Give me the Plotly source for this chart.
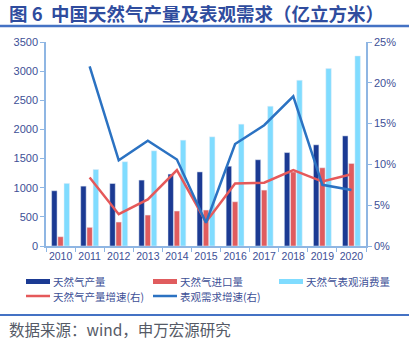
import plotly.graph_objects as go

years = ["2010","2011","2012","2013","2014","2015","2016","2017","2018","2019","2020"]
production = [948, 1027, 1072, 1131, 1234, 1271, 1369, 1480, 1603, 1736, 1889]
imports = [159, 320, 411, 531, 600, 617, 759, 959, 1270, 1342, 1416]
consumption = [1074, 1313, 1445, 1633, 1816, 1873, 2090, 2398, 2844, 3044, 3261]
prod_growth = [None, 8.4, 3.9, 5.7, 9.3, 2.95, 7.65, 7.75, 9.3, 7.9, 8.8]
demand_growth = [None, 22.0, 10.5, 12.9, 10.6, 2.85, 12.5, 14.8, 18.35, 7.5, 6.85]

names = ["天然气产量", "天然气进口量", "天然气表观消费量", "天然气产量增速(右)", "表观需求增速(右)"]
colors = ["#1B3A93", "#E05C5E", "#80DCFF", "#E5595A", "#2B72C2"]

tick_color = "#3D4F96"
axis_color = "#8FB6E3"
font_fam = "Noto Sans CJK SC, Liberation Sans, Arial"

W, H = 409, 342
ML, MR, MT, MB = 46, 43, 42, 96
PW, PH = W - ML - MR, H - MT - MB

def px(x):
    return (x - ML) / PW

def py(y):
    return (H - MB - y) / PH

fig = go.Figure()
fig.add_trace(go.Bar(x=years, y=production, name=names[0], marker_color=colors[0]))
fig.add_trace(go.Bar(x=years, y=imports, name=names[1], marker_color=colors[1]))
fig.add_trace(go.Bar(x=years, y=consumption, name=names[2], marker_color=colors[2]))
fig.add_trace(go.Scatter(x=years, y=prod_growth, name=names[3], mode="lines",
                         line=dict(color=colors[3], width=2.5), yaxis="y2"))
fig.add_trace(go.Scatter(x=years, y=demand_growth, name=names[4], mode="lines",
                         line=dict(color=colors[4], width=2.5), yaxis="y2"))

shapes = [
    dict(type="line", xref="paper", yref="paper", x0=px(0), x1=px(W), y0=py(26), y1=py(26),
         line=dict(color="#4472C4", width=2.5)),
    dict(type="line", xref="paper", yref="paper", x0=px(0), x1=px(W), y0=py(315), y1=py(315),
         line=dict(color="#4472C4", width=2)),
]
annotations = [
    dict(text="<b>图 6  中国天然气产量及表观需求（亿立方米）</b>", xref="paper", yref="paper",
         x=px(7), y=py(13), xanchor="left", yanchor="middle", showarrow=False,
         font=dict(family=font_fam, size=18.5, color="#2F4C9E")),
    dict(text="数据来源：wind，申万宏源研究", xref="paper", yref="paper",
         x=px(7), y=py(329), xanchor="left", yanchor="middle", showarrow=False,
         font=dict(family=font_fam, size=15.5, color="#555A66")),
]

# manual legend
leg_pos = [(26, 281.5), (153, 281.5), (279, 281.5), (26, 296), (153, 296)]
for i, (lx, ly) in enumerate(leg_pos):
    if i < 3:
        shapes.append(dict(type="rect", xref="paper", yref="paper",
                           x0=px(lx), x1=px(lx + 24), y0=py(ly + 2.5), y1=py(ly - 2.5),
                           fillcolor=colors[i], line=dict(width=0)))
    else:
        shapes.append(dict(type="line", xref="paper", yref="paper",
                           x0=px(lx), x1=px(lx + 24), y0=py(ly), y1=py(ly),
                           line=dict(color=colors[i], width=2.5)))
    annotations.append(dict(text=names[i], xref="paper", yref="paper",
                            x=px(lx + 25), y=py(ly), xanchor="left", yanchor="middle",
                            showarrow=False,
                            font=dict(family=font_fam, size=10.5, color=tick_color)))

fig.update_layout(
    width=W, height=H,
    margin=dict(l=ML, r=MR, t=MT, b=MB),
    paper_bgcolor="white", plot_bgcolor="white",
    font=dict(family=font_fam, size=11, color=tick_color),
    barmode="group", bargap=0.36, bargroupgap=0.12,
    showlegend=False,
    xaxis=dict(showline=True, linecolor=axis_color, linewidth=1.5, tickangle=0,
               ticks="outside", tickson="boundaries", ticklen=4, tickcolor=axis_color,
               tickfont=dict(family="Liberation Sans, Arial", size=10.5, color=tick_color),
               showgrid=False),
    yaxis=dict(range=[0, 3500], dtick=500, showline=True, linecolor=axis_color, linewidth=1.5,
               ticks="outside", ticklen=4, tickcolor=axis_color, showgrid=False, zeroline=False,
               tickfont=dict(family="Liberation Sans, Arial", size=11, color=tick_color)),
    yaxis2=dict(range=[0, 25], dtick=5, ticksuffix="%", overlaying="y", side="right",
                showline=True, linecolor=axis_color, linewidth=1.5,
                ticks="outside", ticklen=4, tickcolor=axis_color, showgrid=False, zeroline=False,
                tickfont=dict(family="Liberation Sans, Arial", size=11, color=tick_color)),
    annotations=annotations,
    shapes=shapes,
)

fig.write_html("out.html")
